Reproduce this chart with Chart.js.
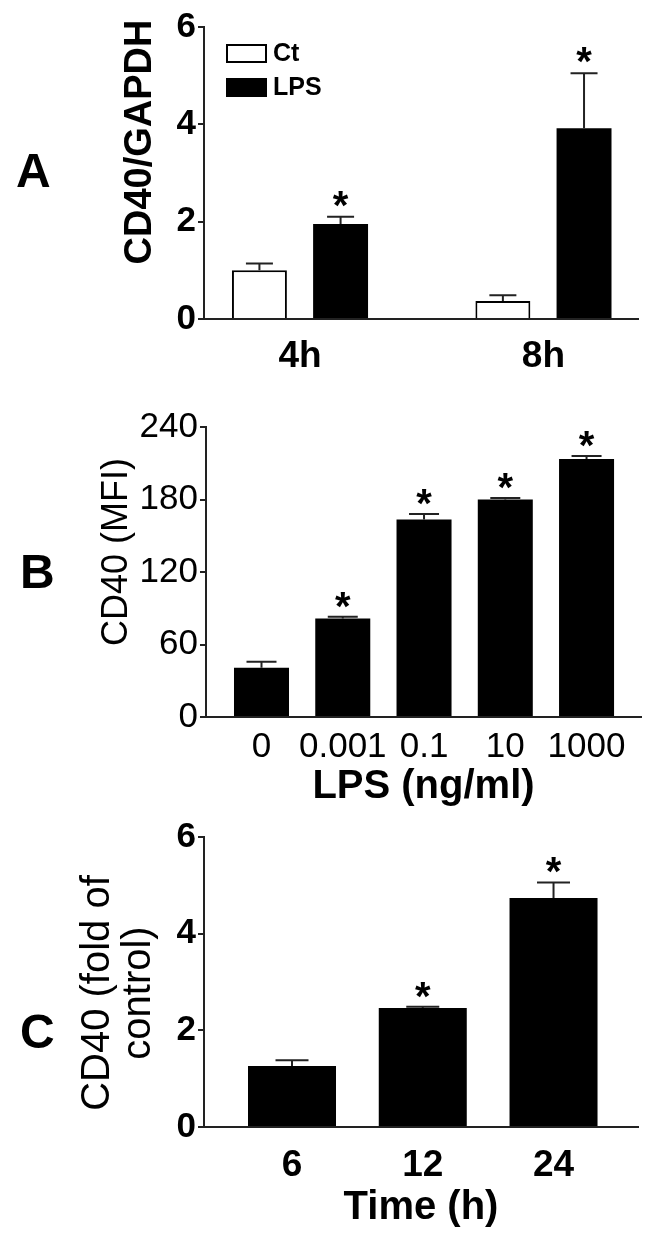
<!DOCTYPE html>
<html>
<head>
<meta charset="utf-8">
<script src="https://cdn.jsdelivr.net/npm/chart.js@4.4.1/dist/chart.umd.min.js"></script>
<style>
  html, body { margin: 0; padding: 0; background: #ffffff; }
  #wrap { position: relative; width: 662px; height: 1238px; overflow: hidden; }
  .pane { position: absolute; left: 0; width: 662px; }
  canvas { display: block; }
</style>
</head>
<body>
<div id="wrap">
  <div class="pane" style="top:0px;height:395px"><canvas id="cA" width="662" height="395"></canvas></div>
  <div class="pane" style="top:395px;height:415px"><canvas id="cB" width="662" height="415"></canvas></div>
  <div class="pane" style="top:810px;height:428px"><canvas id="cC" width="662" height="428"></canvas></div>
</div>
<script>
// ---------------- DATA ----------------
// Panel A: CD40/GAPDH, control vs LPS at 4h and 8h
const timeA = ['4h', '8h'];
const ctA = [1.00, 0.37];
const ctErrA = [0.14, 0.12];
const ctStarA = [false, false];
const lpsA = [1.95, 3.92];
const lpsErrA = [0.15, 1.13];
const lpsStarA = [true, true];
const yTicksA = [0, 2, 4, 6];
const yTitleA = ['CD40/GAPDH'];

// Panel B: CD40 (MFI) vs LPS dose
const doseB = ['0', '0.001', '0.1', '10', '1000'];
const mfiB = [40.8, 81.5, 163.5, 180.0, 213.6];
const mfiErrB = [5.0, 1.5, 4.5, 1.3, 2.4];
const starB = [false, true, true, true, true];
const yTicksB = [0, 60, 120, 180, 240];
const yTitleB = ['CD40 (MFI)'];
const xTitleB = 'LPS (ng/ml)';

// Panel C: CD40 (fold of control) vs time
const timeC = ['6', '12', '24'];
const foldC = [1.26, 2.46, 4.74];
const foldErrC = [0.12, 0.03, 0.32];
const starC = [false, true, true];
const yTicksC = [0, 2, 4, 6];
const yTitleC = ['CD40 (fold of', 'control)'];
const xTitleC = 'Time (h)';

// ---------------- STYLE ----------------
const FAM = "'Liberation Sans', Arial, Helvetica, sans-serif";
const AX = '#222222';

// ---------------- PLUGINS ----------------
const errStars = {
  id: 'errStars',
  afterDatasetsDraw(chart, args, o) {
    const ctx = chart.ctx;
    const ys = chart.scales.y;
    chart.data.datasets.forEach((ds, di) => {
      const meta = chart.getDatasetMeta(di);
      const errs = ds.errors || [];
      const stars = ds.stars || [];
      meta.data.forEach((bar, i) => {
        const v = ds.data[i].y;
        const top = ys.getPixelForValue(v + (errs[i] || 0));
        ctx.save();
        ctx.strokeStyle = o.color;
        ctx.lineWidth = o.lineWidth;
        ctx.beginPath();
        ctx.moveTo(bar.x, bar.y);
        ctx.lineTo(bar.x, top);
        ctx.moveTo(bar.x - o.cap / 2, top);
        ctx.lineTo(bar.x + o.cap / 2, top);
        ctx.stroke();
        if (stars[i]) {
          ctx.font = o.starFont;
          ctx.fillStyle = '#000';
          ctx.textAlign = 'center';
          ctx.textBaseline = 'alphabetic';
          const m = ctx.measureText('*');
          ctx.fillText('*', bar.x, top - o.starGap - m.actualBoundingBoxDescent);
        }
        ctx.restore();
      });
    });
  }
};

const boxLegend = {
  id: 'boxLegend',
  afterDraw(chart, args, o) {
    if (!o.display) return;
    const ctx = chart.ctx;
    const a = chart.chartArea;
    chart.data.datasets.forEach((ds, i) => {
      const x = a.left + o.dx;
      const y = a.top + o.dy + i * o.rowGap;
      ctx.save();
      ctx.fillStyle = ds.backgroundColor;
      ctx.fillRect(x, y, o.boxW, o.boxH);
      ctx.strokeStyle = ds.borderColor;
      ctx.lineWidth = 2;
      ctx.strokeRect(x + 1, y + 1, o.boxW - 2, o.boxH - 2);
      ctx.fillStyle = '#000';
      ctx.font = o.font;
      ctx.textAlign = 'left';
      ctx.textBaseline = 'middle';
      ctx.fillText(ds.label, x + o.boxW + o.textGap, y + o.boxH / 2 + 1);
      ctx.restore();
    });
  }
};

// rotated y-axis title (one or more lines), placed beside the y axis
const yTitle = {
  id: 'yTitle',
  afterDraw(chart, args, o) {
    const ctx = chart.ctx;
    o.lines.forEach((line, i) => {
      ctx.save();
      ctx.translate(o.x + i * o.lineGap, o.cy);
      ctx.rotate(-Math.PI / 2);
      ctx.font = o.font;
      ctx.fillStyle = '#000';
      ctx.textAlign = 'center';
      ctx.textBaseline = 'middle';
      ctx.fillText(line, 0, 0);
      ctx.restore();
    });
  }
};

const panelLetter = {
  id: 'panelLetter',
  afterDraw(chart, args, o) {
    const ctx = chart.ctx;
    ctx.save();
    ctx.font = o.font;
    ctx.fillStyle = '#000';
    ctx.textAlign = 'left';
    ctx.textBaseline = 'alphabetic';
    ctx.fillText(o.text, o.x, o.y);
    ctx.restore();
  }
};

// ---------------- HELPERS ----------------
function yScale(tickVals, c) {
  return {
    type: 'linear',
    min: tickVals[0],
    max: tickVals[tickVals.length - 1],
    afterBuildTicks: s => { s.ticks = tickVals.map(v => ({ value: v })); },
    afterFit: s => { s.width = c.width; },
    border: { display: true, color: AX, width: 2 },
    grid: { display: true, drawOnChartArea: false, drawTicks: true, tickLength: 6, color: AX, lineWidth: 2 },
    ticks: { font: c.tickFont, color: '#000', padding: 2 },
    title: { display: false }
  };
}

function xScale(tickVals, labels, c) {
  return {
    type: 'linear',
    min: c.min,
    max: c.max,
    offset: false,
    afterBuildTicks: s => { s.ticks = tickVals.map(v => ({ value: v })); },
    afterFit: s => { s.height = c.height; },
    border: { display: true, color: AX, width: 2 },
    grid: { display: false, drawTicks: false },
    ticks: { font: c.tickFont, color: '#000', padding: c.tickPad, autoSkip: false, maxRotation: 0, minRotation: 0,
             callback: (v, i) => labels[i] },
    title: c.title ? { display: true, text: c.title, font: c.titleFont, color: '#000', padding: { top: 0, bottom: c.titlePad } }
                   : { display: false }
  };
}

function baseOptions(pad, scales, plugins) {
  return {
    responsive: false,
    animation: false,
    events: [],
    layout: { padding: pad },
    scales: scales,
    plugins: Object.assign({ legend: { display: false }, tooltip: { enabled: false } }, plugins)
  };
}

// ---------------- PANEL A ----------------
new Chart(document.getElementById('cA'), {
  type: 'bar',
  data: {
    datasets: [
      { label: 'Ct', data: timeA.map((t, g) => ({ x: g * 3, y: ctA[g] })), errors: ctErrA, stars: ctStarA,
        backgroundColor: '#ffffff', borderColor: '#000000', borderWidth: 2, borderSkipped: 'bottom',
        grouped: false, categoryPercentage: 1, barPercentage: 0.677 },
      { label: 'LPS', data: timeA.map((t, g) => ({ x: g * 3 + 1, y: lpsA[g] })), errors: lpsErrA, stars: lpsStarA,
        backgroundColor: '#000000', borderColor: '#000000', borderWidth: 0,
        grouped: false, categoryPercentage: 1, barPercentage: 0.677 }
    ]
  },
  options: baseOptions({ top: 27, right: 24, left: 0, bottom: 0 }, {
    x: xScale(timeA.map((t, g) => g * 3 + 0.5), timeA,
      { min: -0.683, max: 4.665, height: 76, tickFont: { family: FAM, size: 37, weight: 'bold', lineHeight: 1.2 }, tickPad: 16 }),
    y: yScale(yTicksA, { width: 204, tickFont: { family: FAM, size: 35, weight: 'bold' } })
  }, {
    errStars: { color: AX, lineWidth: 2, cap: 27, starFont: 'bold 40px ' + FAM, starGap: 10 },
    boxLegend: { display: true, dx: 22, dy: 17, rowGap: 34, boxW: 41, boxH: 19, textGap: 6, font: 'bold 25px ' + FAM },
    yTitle: { lines: yTitleA, x: 141, cy: 142, lineGap: 0, font: 'bold 38px ' + FAM },
    panelLetter: { text: 'A', x: 16, y: 187, font: 'bold 48px ' + FAM }
  }),
  plugins: [errStars, boxLegend, yTitle, panelLetter]
});

// ---------------- PANEL B ----------------
new Chart(document.getElementById('cB'), {
  type: 'bar',
  data: {
    datasets: [
      { label: 'CD40', data: doseB.map((d, i) => ({ x: i, y: mfiB[i] })), errors: mfiErrB, stars: starB,
        backgroundColor: '#000000', borderWidth: 0,
        grouped: false, categoryPercentage: 1, barPercentage: 0.677 }
    ]
  },
  options: baseOptions({ top: 32, right: 21, left: 0, bottom: 0 }, {
    x: xScale(doseB.map((d, i) => i), doseB,
      { min: -0.683, max: 4.67, height: 93, tickFont: { family: FAM, size: 35, lineHeight: 1.2 }, tickPad: 9,
        title: xTitleB, titleFont: { family: FAM, size: 40, weight: 'bold', lineHeight: 1 }, titlePad: 3 }),
    y: yScale(yTicksB, { width: 206, tickFont: { family: FAM, size: 35 } })
  }, {
    errStars: { color: AX, lineWidth: 2, cap: 30, starFont: 'bold 40px ' + FAM, starGap: 9 },
    boxLegend: { display: false },
    yTitle: { lines: yTitleB, x: 117, cy: 157, lineGap: 0, font: '36px ' + FAM },
    panelLetter: { text: 'B', x: 20, y: 193, font: 'bold 48px ' + FAM }
  }),
  plugins: [errStars, boxLegend, yTitle, panelLetter]
});

// ---------------- PANEL C ----------------
new Chart(document.getElementById('cC'), {
  type: 'bar',
  data: {
    datasets: [
      { label: 'CD40', data: timeC.map((t, i) => ({ x: i, y: foldC[i] })), errors: foldErrC, stars: starC,
        backgroundColor: '#000000', borderWidth: 0,
        grouped: false, categoryPercentage: 1, barPercentage: 0.673 }
    ]
  },
  options: baseOptions({ top: 27, right: 24, left: 0, bottom: 0 }, {
    x: xScale(timeC.map((t, i) => i), timeC,
      { min: -0.673, max: 2.646, height: 111, tickFont: { family: FAM, size: 37, weight: 'bold', lineHeight: 1.2 }, tickPad: 17,
        title: xTitleC, titleFont: { family: FAM, size: 40, weight: 'bold', lineHeight: 1 }, titlePad: 10 }),
    y: yScale(yTicksC, { width: 204, tickFont: { family: FAM, size: 35, weight: 'bold' } })
  }, {
    errStars: { color: AX, lineWidth: 2, cap: 33, starFont: 'bold 40px ' + FAM, starGap: 9 },
    boxLegend: { display: false },
    yTitle: { lines: yTitleC, x: 98, cy: 183, lineGap: 41, font: '40px ' + FAM },
    panelLetter: { text: 'C', x: 20, y: 238, font: 'bold 48px ' + FAM }
  }),
  plugins: [errStars, boxLegend, yTitle, panelLetter]
});
</script>
</body>
</html>
